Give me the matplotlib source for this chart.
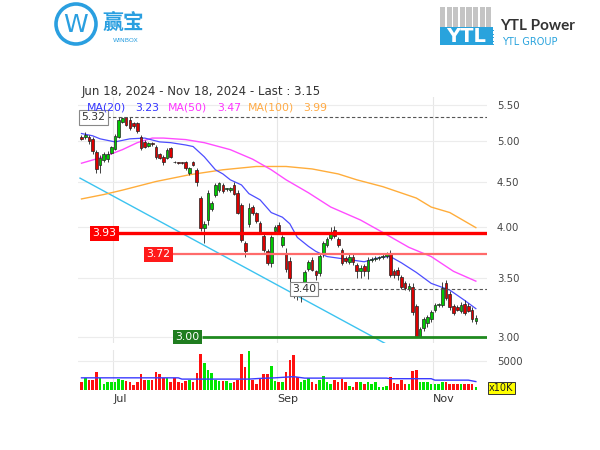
import matplotlib
matplotlib.use('Agg')
import matplotlib.pyplot as plt
import numpy as np
from matplotlib.ticker import FixedLocator, NullLocator, FuncFormatter
from matplotlib.patches import Circle, Rectangle

plt.rcParams['font.family'] = ['DejaVu Sans', 'Noto Sans CJK SC']

# daily candles, Jun 18 2024 .. Nov 18 2024 (107 trading days)
opens = [5.06, 5.05, 5.06, 5.03, 4.86, 4.70, 4.76, 4.77, 4.85, 4.90,
         5.06, 5.26, 5.32, 5.28, 5.24, 5.24, 5.06, 4.99, 4.94, 4.97,
         4.93, 4.83, 4.80, 4.79, 4.91, 4.74, 4.73, 4.73, 4.73, 4.60,
         4.73, 4.64, 4.31, 3.99, 4.07, 4.19, 4.35, 4.40, 4.46, 4.41,
         4.40, 4.46, 4.37, 4.23, 3.83, 4.03, 4.21, 4.14, 4.04, 3.90,
         3.75, 3.64, 3.96, 4.02, 3.81, 3.72, 3.66, 3.42, 3.38, 3.35,
         3.46, 3.58, 3.67, 3.56, 3.54, 3.72, 3.81, 3.88, 3.97, 3.87,
         3.76, 3.69, 3.65, 3.70, 3.62, 3.56, 3.61, 3.56, 3.67, 3.68,
         3.69, 3.70, 3.71, 3.72, 3.56, 3.57, 3.51, 3.45, 3.40, 3.42,
         3.25, 3.00, 3.07, 3.11, 3.14, 3.22, 3.26, 3.26, 3.45, 3.36,
         3.25, 3.24, 3.21, 3.27, 3.25, 3.22, 3.13]
highs = [5.08, 5.12, 5.08, 5.06, 4.88, 4.82, 4.86, 4.87, 4.94, 5.10,
         5.32, 5.33, 5.32, 5.32, 5.26, 5.26, 5.08, 5.01, 4.99, 4.99,
         4.95, 4.85, 4.82, 4.91, 4.93, 4.75, 4.74, 4.74, 4.75, 4.67,
         4.75, 4.66, 4.33, 4.06, 4.40, 4.28, 4.48, 4.50, 4.48, 4.43,
         4.44, 4.49, 4.40, 4.25, 3.85, 4.25, 4.23, 4.16, 4.06, 3.92,
         3.77, 3.91, 4.02, 4.05, 3.91, 3.78, 3.70, 3.46, 3.42, 3.46,
         3.57, 3.67, 3.70, 3.57, 3.72, 3.85, 3.89, 4.00, 4.01, 3.89,
         3.78, 3.71, 3.72, 3.72, 3.64, 3.62, 3.63, 3.70, 3.70, 3.71,
         3.71, 3.72, 3.74, 3.76, 3.58, 3.60, 3.53, 3.47, 3.45, 3.45,
         3.27, 3.08, 3.16, 3.18, 3.22, 3.28, 3.28, 3.46, 3.48, 3.38,
         3.27, 3.26, 3.29, 3.30, 3.28, 3.24, 3.18]
lows = [5.01, 5.03, 4.96, 4.84, 4.60, 4.60, 4.74, 4.74, 4.83, 4.88,
        5.04, 5.24, 5.20, 5.15, 5.18, 5.11, 4.88, 4.91, 4.92, 4.94,
        4.77, 4.77, 4.70, 4.77, 4.78, 4.72, 4.71, 4.71, 4.64, 4.58,
        4.69, 4.45, 3.96, 3.83, 4.02, 4.17, 4.32, 4.38, 4.37, 4.39,
        4.38, 4.34, 4.13, 3.84, 3.70, 4.00, 4.12, 4.04, 3.92, 3.74,
        3.62, 3.60, 3.94, 3.92, 3.79, 3.55, 3.43, 3.32, 3.30, 3.29,
        3.44, 3.56, 3.56, 3.48, 3.52, 3.70, 3.79, 3.86, 3.88, 3.79,
        3.62, 3.64, 3.63, 3.62, 3.50, 3.50, 3.52, 3.49, 3.65, 3.66,
        3.67, 3.68, 3.69, 3.51, 3.50, 3.48, 3.40, 3.39, 3.38, 3.18,
        3.00, 3.00, 3.05, 3.08, 3.12, 3.20, 3.24, 3.24, 3.30, 3.22,
        3.18, 3.21, 3.19, 3.18, 3.20, 3.12, 3.10]
closes = [5.03, 5.08, 5.00, 4.87, 4.65, 4.79, 4.83, 4.84, 4.92, 5.07,
          5.29, 5.31, 5.22, 5.18, 5.20, 5.13, 4.91, 4.93, 4.97, 4.96,
          4.80, 4.79, 4.73, 4.89, 4.80, 4.73, 4.72, 4.72, 4.66, 4.66,
          4.70, 4.50, 3.99, 4.03, 4.37, 4.25, 4.46, 4.48, 4.39, 4.42,
          4.43, 4.36, 4.15, 3.86, 3.75, 4.20, 4.14, 4.06, 3.94, 3.76,
          3.64, 3.89, 4.00, 3.94, 3.89, 3.58, 3.50, 3.38, 3.37, 3.44,
          3.55, 3.65, 3.57, 3.53, 3.71, 3.83, 3.87, 3.94, 3.90, 3.81,
          3.64, 3.66, 3.70, 3.65, 3.56, 3.59, 3.56, 3.67, 3.68, 3.69,
          3.69, 3.70, 3.72, 3.53, 3.53, 3.53, 3.42, 3.41, 3.43, 3.20,
          3.00, 3.06, 3.14, 3.16, 3.20, 3.26, 3.26, 3.41, 3.32, 3.24,
          3.19, 3.22, 3.26, 3.19, 3.21, 3.14, 3.15]
# volume in units of 10K shares
volumes = [1400, 2000, 1800, 1700, 3100, 2000, 1100, 1300, 1400, 1400,
           1900, 1700, 1500, 1300, 850, 1400, 2700, 1700, 1800, 1800,
           3100, 2700, 2000, 2000, 1400, 2000, 1400, 1250, 1600, 1800,
           1400, 3000, 6250, 4700, 3400, 3000, 1800, 1600, 1600, 1600,
           1250, 1400, 1800, 6250, 4000, 6800, 1700, 1100, 2000, 2700,
           2700, 4150, 1600, 1300, 1300, 3100, 5100, 6000, 2300, 1400,
           1800, 2100, 1400, 1100, 1700, 2400, 1400, 1100, 1700, 1300,
           1900, 1300, 750, 550, 1400, 1300, 1100, 1400, 1100, 1300,
           550, 550, 700, 2300, 1250, 1100, 1800, 1100, 1100, 3300,
           3500, 1400, 1400, 1400, 1000, 1100, 1100, 1400, 1400, 1100,
           1000, 1000, 1000, 1000, 1000, 1000, 550]

# moving averages (day index, value)
ma20_idx = [0, 3, 5, 9, 13, 17, 21, 24, 28, 30, 33, 36, 38, 40, 43, 45, 48, 51, 54, 56,
            58, 61, 63, 66, 72, 76, 80, 83, 86, 90, 94, 99, 103, 106]
ma20_val = [5.10, 5.07, 5.03, 4.99, 5.03, 5.04, 4.99, 4.98, 4.95, 4.93, 4.80, 4.64, 4.59,
            4.52, 4.46, 4.36, 4.29, 4.15, 4.10, 4.03, 3.89, 3.80, 3.75, 3.70, 3.67, 3.65,
            3.69, 3.70, 3.64, 3.55, 3.45, 3.39, 3.30, 3.23]
ma50_idx = [0, 6, 11, 15, 19, 22, 28, 33, 40, 46, 51, 55, 61, 67, 75, 81, 88, 94, 100, 106]
ma50_val = [4.72, 4.80, 4.89, 4.98, 5.04, 5.04, 5.02, 4.98, 4.89, 4.77, 4.64, 4.52, 4.37,
            4.21, 4.07, 3.94, 3.79, 3.70, 3.56, 3.47]
ma100_idx = [0, 6, 11, 20, 29, 38, 47, 55, 62, 69, 74, 81, 90, 94, 99, 106]
ma100_val = [4.30, 4.35, 4.40, 4.50, 4.58, 4.64, 4.68, 4.68, 4.65, 4.59, 4.52, 4.44, 4.31,
             4.21, 4.15, 3.99]
vma_idx = [0, 26, 27, 45, 48, 52, 57, 60, 82, 83, 94, 95, 104, 106]
vma_val = [2100, 2100, 1880, 1880, 2000, 2100, 2300, 2050, 2050, 1950, 1950, 1700, 1700, 1450]

# downtrend line
trend_idx = [-0.4, 81.6]
trend_val = [4.54, 2.95]

price_ticks = [3.0, 3.5, 4.0, 4.5, 5.0, 5.5]
month_first = [9, 53, 95]
month_names = ['Jul', 'Sep', 'Nov']

W, H = 600, 450
fig = plt.figure(figsize=(6, 4.5), dpi=100)


def frac(x0, y0, x1, y1):
    return [x0 / W, 1 - y1 / H, (x1 - x0) / W, (y1 - y0) / H]


ax = fig.add_axes(frac(78, 97, 487, 343))
axv = fig.add_axes(frac(78, 350, 487, 390))

idx = np.arange(len(closes))
o = np.array(opens)
c = np.array(closes)
up = c >= o
grid_x = [m - 0.5 for m in month_first]

# ---- price panel
ax.set_yscale('log')
ax.set_ylim(2.953, 5.61)
ax.set_xlim(-0.94, 109.0)
for s in ax.spines.values():
    s.set_visible(False)
for g in grid_x:
    ax.axvline(g, color='#e6e6e6', lw=0.8, zorder=0)
for t in price_ticks:
    ax.axhline(t, color='#ececec', lw=0.8, zorder=0)

ax.yaxis.tick_right()
ax.yaxis.set_major_locator(FixedLocator(price_ticks))
ax.yaxis.set_minor_locator(NullLocator())
ax.yaxis.set_major_formatter(FuncFormatter(lambda v, p: f'{v:.2f}'))
ax.tick_params(axis='y', length=0, pad=7, labelsize=7.3, labelcolor='#444444')
ax.tick_params(axis='x', bottom=False, labelbottom=False)

ax.plot(trend_idx, trend_val, color='#3cc3f0', lw=1.0, zorder=1)
ax.plot(ma100_idx, ma100_val, color='#ffad3b', lw=1.0, zorder=2)
ax.plot(ma50_idx, ma50_val, color='#ff4cff', lw=1.0, zorder=2)
ax.plot(ma20_idx, ma20_val, color='#4d4dff', lw=0.9, zorder=2)

body_lo = np.minimum(o, c)
body_h = np.maximum(np.abs(c - o), 0.008)
ax.vlines(idx, lows, highs, color='#222222', lw=0.6, zorder=3)
ax.bar(idx, body_h, bottom=body_lo, width=0.72,
       color=np.where(up, '#00c800', '#dd0000'), edgecolor='#222222', lw=0.5, zorder=4)

# support / resistance levels
ax.hlines(3.93, 9.8, 109, color='#ff0000', lw=2.4, zorder=5)
ax.hlines(3.72, 24.6, 109, color='#ff6b6b', lw=1.6, zorder=5)
ax.hlines(3.00, 32.4, 109, color='#1f8a1f', lw=2.0, zorder=5)
ax.hlines(3.40, 63.6, 109, color='#555555', lw=0.8, linestyles=(0, (3, 2)), zorder=5)
ax.hlines(5.32, 6.9, 109, color='#555555', lw=0.8, linestyles=(0, (3, 2)), zorder=5)

lab = dict(ha='center', va='center', fontsize=7.8, zorder=6)
ax.text(6.2, 3.93, '3.93', color='white',
        bbox=dict(boxstyle='square,pad=0.2', fc='#ff0000', ec='none'), **lab)
ax.text(20.7, 3.72, '3.72', color='white',
        bbox=dict(boxstyle='square,pad=0.2', fc='#ff1a1a', ec='none'), **lab)
ax.text(28.5, 3.00, '3.00', color='white',
        bbox=dict(boxstyle='square,pad=0.2', fc='#1f7d1f', ec='none'), **lab)
ax.text(59.8, 3.40, '3.40', color='#333333',
        bbox=dict(boxstyle='square,pad=0.2', fc='white', ec='#888888', lw=0.8), **lab)
ax.text(3.2, 5.32, '5.32', color='#333333',
        bbox=dict(boxstyle='square,pad=0.2', fc='white', ec='#888888', lw=0.8), **lab)

# ---- volume panel
axv.set_xlim(-0.94, 109.0)
axv.set_ylim(0, 6900)
for s in axv.spines.values():
    s.set_visible(False)
for g in grid_x:
    axv.axvline(g, color='#e6e6e6', lw=0.8, zorder=0)
axv.axhline(5000, color='#ececec', lw=0.8, zorder=0)
axv.bar(idx, volumes, width=0.7, color=np.where(up, '#00e600', '#ff1010'), zorder=3)
axv.plot(vma_idx, vma_val, color='#3a3aff', lw=1.0, zorder=4)
axv.yaxis.tick_right()
axv.set_yticks([5000])
axv.set_yticklabels(['5000'])
axv.tick_params(axis='y', length=0, pad=7, labelsize=7.3, labelcolor='#444444')
axv.set_xticks(grid_x)
axv.set_xticklabels(month_names, ha='left')
axv.tick_params(axis='x', length=0, pad=3, labelsize=8, labelcolor='#333333')

# ---- header, legend and logos drawn in pixel space
ov = fig.add_axes([0, 0, 1, 1])
ov.set_xlim(0, W)
ov.set_ylim(H, 0)
ov.axis('off')

ov.text(489, 388, 'x10K', fontsize=7, color='#222222', ha='left', va='center',
        bbox=dict(boxstyle='square,pad=0.15', fc='#ffff00', ec='#333333', lw=0.7))

ov.text(82, 91, 'Jun 18, 2024 - Nov 18, 2024 - Last : 3.15', fontsize=8.5,
        color='#333333', ha='left', va='center')
legend_items = [(87, 'MA(20)', '#3333ff'), (135, '3.23', '#3333ff'),
                (168, 'MA(50)', '#ff33ff'), (217, '3.47', '#ff33ff'),
                (248, 'MA(100)', '#ffaa44'), (303, '3.99', '#ffaa44')]
for lx, txt, col in legend_items:
    ov.text(lx, 108, txt, fontsize=7.8, color=col, ha='left', va='center')

# WINBOX logo
blue = '#2a9fe0'
ov.add_patch(Circle((76, 24), 20, fill=False, ec=blue, lw=2.6))
ov.text(76, 25, 'W', fontsize=18, color=blue, ha='center', va='center')
ov.text(103, 22, '赢宝', fontsize=15, fontweight='bold', color=blue, ha='left', va='center',
        family=['Noto Sans CJK SC', 'DejaVu Sans'])
ov.text(125.5, 41, 'WINBOX', fontsize=4.5, color=blue, ha='center', va='center')

# YTL logo
for k in range(8):
    ov.add_patch(Rectangle((440 + k * 6.6, 7), 5.2, 20, color='#c4c4c4', lw=0))
ov.add_patch(Rectangle((440, 27), 53, 18, color='#29a3dd', lw=0))
ov.text(466, 36.5, 'YTL', fontsize=14, fontweight='bold', color='white', ha='center',
        va='center')
for yy in [30, 33.5, 37, 40.5, 44]:
    ov.plot([440, 493], [yy, yy], color='#29a3dd', lw=0.7)
ov.text(500, 26, 'YTL Power', fontsize=11, fontweight='bold', color='#333333',
        ha='left', va='center', family=['Lato', 'DejaVu Sans'])
ov.text(502, 42, 'YTL GROUP', fontsize=7, color='#29a3dd', ha='left', va='center')

fig.savefig('out.png', dpi=100)
